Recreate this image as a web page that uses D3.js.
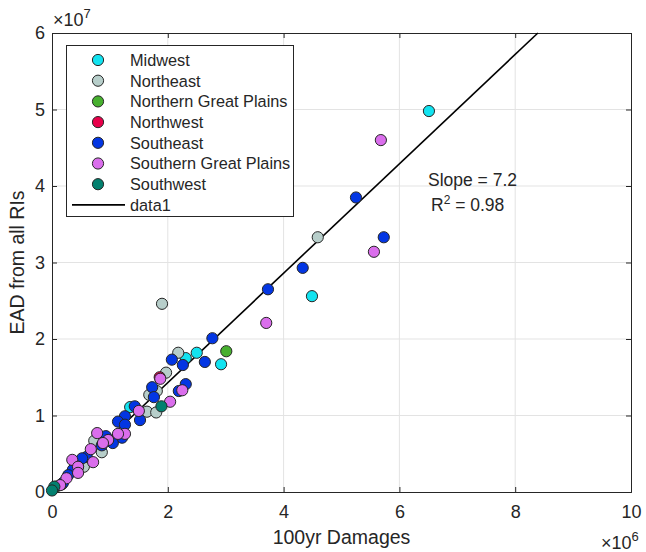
<!DOCTYPE html>
<html><head><meta charset="utf-8">
<script src="https://cdn.jsdelivr.net/npm/d3@7"></script>
<style>body{margin:0;background:#fff}svg{display:block}text{font-family:"Liberation Sans",Arial,sans-serif;fill:#262626}</style>
</head><body><svg id="c" width="646" height="552"></svg>
<script>
const regions = ["Midwest","Northeast","Northern Great Plains","Northwest","Southeast","Southern Great Plains","Southwest"];
const colors = ["#12e3f0","#b7ceca","#47b02f","#e8004a","#0336e3","#da6eec","#03806f"];
// x: 100yr damages (×1e6), y: EAD (×1e7)
const midwest = [[6.51,4.98],[4.49,2.56],[2.92,1.67],[2.50,1.82],[2.31,1.75],[1.35,1.11]];
const northeast = [[4.59,3.33],[1.90,2.46],[2.18,1.82],[1.97,1.56],[1.68,1.27],[1.81,1.32],[1.64,1.05],[1.80,1.04],[0.73,0.67],[0.86,0.52],[0.55,0.33],[0.17,0.10]];
const northernGreatPlains = [[3.01,1.84],[0.07,0.07]];
const northwest = [[1.86,1.50]];
const southeast = [[5.25,3.85],[5.73,3.33],[4.33,2.93],[3.73,2.65],[2.77,2.01],[2.64,1.70],[2.07,1.73],[2.26,1.66],[2.31,1.41],[2.19,1.32],[1.73,1.37],[1.76,1.24],[1.43,1.12],[1.52,0.94],[1.26,0.99],[1.14,0.92],[1.26,0.88],[0.93,0.73],[1.21,0.71],[1.05,0.64],[0.86,0.61],[0.60,0.46],[0.52,0.44],[0.45,0.33],[0.36,0.29],[0.28,0.22],[0.19,0.12]];
const southernGreatPlains = [[5.68,4.60],[5.56,3.14],[3.70,2.21],[1.87,1.48],[2.25,1.33],[2.04,1.18],[1.50,1.06],[0.78,0.77],[1.26,0.76],[1.14,0.76],[0.97,0.68],[0.88,0.64],[0.67,0.56],[0.71,0.39],[0.35,0.42],[0.45,0.33],[0.45,0.25],[0.25,0.18],[0.14,0.09]];
const southwest = [[1.89,1.12],[0.04,0.07],[0.00,0.02]];
const seriesData = [midwest,northeast,northernGreatPlains,northwest,southeast,southernGreatPlains,southwest];
const xTicks = [0,2,4,6,8,10];
const yTicks = [0,1,2,3,4,5,6];
const fitSlope = 0.715; // y(1e7) per x(1e6)
const annot = ["Slope = 7.2","0.98"];

const svg = d3.select("#c");
const L=52,R=631,T=33,B=492;
const x = d3.scaleLinear().domain([0,10]).range([L,R]);
const y = d3.scaleLinear().domain([0,6]).range([B,T]);
const FONT = '"Liberation Sans",Arial,sans-serif';

// grid
const g = svg.append("g");
g.selectAll(".gx").data(xTicks.slice(1,-1)).join("line").attr("x1",d=>x(d)).attr("x2",d=>x(d)).attr("y1",T).attr("y2",B).attr("stroke","#e3e3e3");
g.selectAll(".gy").data(yTicks.slice(1,-1)).join("line").attr("y1",d=>y(d)).attr("y2",d=>y(d)).attr("x1",L).attr("x2",R).attr("stroke","#e3e3e3");

// axes
const xa = svg.append("g").attr("transform",`translate(0,${B})`).call(d3.axisBottom(x).tickValues(xTicks).tickSize(-5).tickPadding(13).tickFormat(d3.format("d")));
const ya = svg.append("g").attr("transform",`translate(${L},0)`).call(d3.axisLeft(y).tickValues(yTicks).tickSize(-5).tickPadding(7).tickFormat(d3.format("d")));
const xt = svg.append("g").attr("transform",`translate(0,${T})`).call(d3.axisTop(x).tickValues(xTicks).tickSize(-5).tickFormat(""));
const yr = svg.append("g").attr("transform",`translate(${R},0)`).call(d3.axisRight(y).tickValues(yTicks).tickSize(-5).tickFormat(""));
[xa,ya,xt,yr].forEach(a=>{a.select(".domain").attr("stroke","#262626");a.selectAll(".tick line").attr("stroke","#262626");a.selectAll("text").style("font-size","18px").attr("fill","#262626").style("font-family",FONT);});

// regression line
const xEnd = 6/fitSlope;
svg.append("line").attr("x1",x(0)).attr("y1",y(0)).attr("x2",x(xEnd)).attr("y2",y(fitSlope*xEnd)).attr("stroke","#000").attr("stroke-width",1.6);

// points
seriesData.forEach((arr,i)=>{
  svg.append("g").selectAll("circle").data(arr).join("circle")
    .attr("cx",d=>x(d[0])).attr("cy",d=>y(d[1])).attr("r",5.6)
    .attr("fill",colors[i]).attr("stroke","#262626").attr("stroke-width",1);
});

// multipliers
const m7 = svg.append("text").attr("x",53).attr("y",26).style("font-size","18px");
m7.append("tspan").text("×10");
m7.append("tspan").attr("dy",-8).style("font-size","13px").text("7");
const m6 = svg.append("text").attr("x",601).attr("y",549).style("font-size","18px");
m6.append("tspan").text("×10");
m6.append("tspan").attr("dy",-8).style("font-size","13px").text("6");

// axis labels
svg.append("text").attr("x",(L+R)/2).attr("y",544).attr("text-anchor","middle").style("font-size","19.5px").text("100yr Damages");
svg.append("text").attr("transform",`translate(24,${(T+B)/2}) rotate(-90)`).attr("text-anchor","middle").style("font-size","19.5px").text("EAD from all RIs");

// annotation
svg.append("text").attr("x",428).attr("y",186).style("font-size","17.5px").text(annot[0]);
const r2 = svg.append("text").attr("x",431).attr("y",211).style("font-size","17.5px");
r2.append("tspan").text("R");
r2.append("tspan").attr("dy",-7).style("font-size","12px").text("2");
r2.append("tspan").attr("dy",7).text(" = "+annot[1]);

// legend
const lg = svg.append("g");
lg.append("rect").attr("x",66.5).attr("y",45.5).attr("width",227).attr("height",171).attr("fill","#fff").attr("stroke","#262626");
regions.forEach((r,i)=>{
  const yy = 60 + i*20.7;
  lg.append("circle").attr("cx",98).attr("cy",yy).attr("r",5.6).attr("fill",colors[i]).attr("stroke","#262626").attr("stroke-width",1);
  lg.append("text").attr("x",130).attr("y",yy+5.8).style("font-size","16.3px").text(r);
});
const yl = 60 + 7*20.7;
lg.append("line").attr("x1",72).attr("x2",125).attr("y1",yl).attr("y2",yl).attr("stroke","#000").attr("stroke-width",1.6);
lg.append("text").attr("x",130).attr("y",yl+5.8).style("font-size","16.3px").text("data1");
</script></body></html>
